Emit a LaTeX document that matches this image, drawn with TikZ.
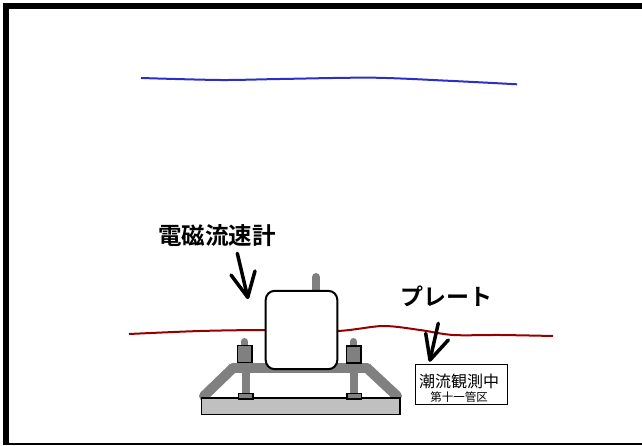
\documentclass[tikz,border=0pt]{standalone}
\usepackage{fontspec}
\usepackage{tikz}
\newfontfamily\jpfont{Noto Sans CJK JP}[BoldFont = Noto Sans CJK JP Bold]

\definecolor{seablue}{RGB}{45,45,200}
\definecolor{platered}{RGB}{150,0,0}
\definecolor{framegray}{RGB}{128,128,128}
\definecolor{plategray}{RGB}{192,192,192}

\begin{document}
\begin{tikzpicture}[
      x = 1pt, y = -1pt,
      every node/.style = {inner sep = 0pt, font = \jpfont},
      bar/.style = {framegray, line width = 10pt, line cap = round},
      leg/.style = {framegray, line width = 8pt, line cap = round},
      block/.style = {draw = black, fill = framegray, line width = 1.5pt},
      pen/.style = {black, line width = 3.5pt, line cap = round, line join = round},
      calltext/.style = {font = \jpfont\bfseries\fontsize{23.5pt}{23.5pt}\selectfont}
      ]
    \useasboundingbox (0,0) rectangle (642,446);
    % frame
    \draw[line width = 6pt] (3.3,6.3) -- (642,6.3);
    \draw[line width = 6pt] (6.2,3.3) -- (6.2,445);
    \draw[line width = 2.5pt] (6.2,444) -- (642,444);
    % water surface and plate level
    \draw[seablue, line width = 2pt] plot[smooth] coordinates
      {(141,78) (220,80) (280,79) (373,77.7) (453,81) (517,84.3)};
    \draw[platered, line width = 2pt] plot[smooth] coordinates
      {(129,334) (200,331) (267,330) (337,331) (383,326) (420,330)
       (453,335) (500,335) (553,336)};
    % stand
    \draw[bar] (233,368) -- (204,396);
    \draw[bar] (367,368) -- (397,396);
    \node[draw, fill = plategray, line width = 1.5pt,
      minimum width = 198.5pt, minimum height = 16.5pt] (plate) at (300.75,406.25) {};
    \draw[bar] (233,368) -- (367,368);
    \draw[leg] (245.5,368) -- (245.5,394);
    \draw[leg] (354,368) -- (354,394);
    \node[block, minimum width = 14.5pt, minimum height = 5.5pt] (lfoot) at (245.5,396) {};
    \node[block, minimum width = 14.5pt, minimum height = 5.5pt] (rfoot) at (354,396) {};
    \draw[leg, line width = 7pt] (244.5,341.5) -- (244.5,348);
    \draw[leg, line width = 7pt] (353.5,341.5) -- (353.5,348);
    \node[block, minimum width = 14.5pt, minimum height = 17pt] (lsensor) at (244.5,354) {};
    \node[block, minimum width = 14.5pt, minimum height = 17pt] (rsensor) at (353.5,354.5) {};
    % current meter
    \draw[leg] (316,277) -- (316,295);
    \node[draw, fill = white, line width = 2pt, rounded corners = 9pt,
      minimum width = 71.6pt, minimum height = 78.3pt] (meter) at (301.5,330) {};
    % labels
    \node[calltext] (mlabel) at (217,235.3) {電磁流速計};
    \node[calltext, font = \jpfont\bfseries\fontsize{23pt}{23pt}\selectfont] (plabel) at (446.3,296) {プレート};
    \coordinate (mtail) at (237.3,253.3);
    \coordinate (mtip) at (247.7,297.3);
    \draw[pen] (mtail) -- (mtip);
    \draw[pen] (mtip) -- +(-16.7,-22.3) (mtip) -- +(7.3,-26.3);
    \coordinate (ptail) at (438.3,323.3);
    \coordinate (ptip) at (430,360);
    \draw[pen] (ptail) -- (ptip);
    \draw[pen] (ptip) -- +(-4.3,-26.7) (ptip) -- +(18.3,-20);
    % sign board
    \node[draw, fill = white, line width = 1.5pt,
      minimum width = 92pt, minimum height = 40pt] (sign) at (461.7,384.3) {};
    \node[font = \jpfont\fontsize{16pt}{16pt}\selectfont] (signtop) at (459,381.5) {潮流観測中};
    \node[font = \jpfont\fontsize{11.5pt}{11.5pt}\selectfont] (signsub) at (459,397.5) {第十一管区};
  \end{tikzpicture}
\end{document}
